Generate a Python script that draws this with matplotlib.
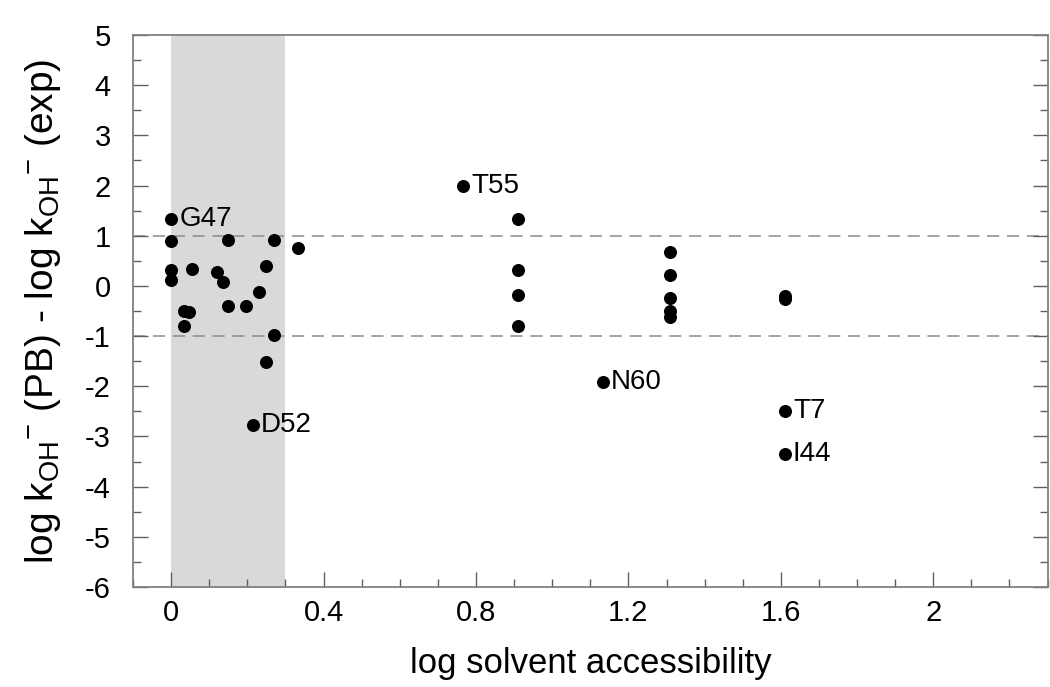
import matplotlib
matplotlib.use("Agg")
import matplotlib.pyplot as plt
from matplotlib.ticker import MultipleLocator

plt.rcParams['font.family'] = ['Liberation Sans', 'DejaVu Sans']
plt.rcParams['mathtext.fontset'] = 'custom'
plt.rcParams['mathtext.rm'] = 'Liberation Sans'
plt.rcParams['mathtext.it'] = 'Liberation Sans'
plt.rcParams['axes.unicode_minus'] = False

# data: log solvent accessibility vs. difference in log k
x_vals = [0.0, 0.0, 0.0, 0.0, 0.055, 0.033, 0.046, 0.033, 0.12, 0.135, 0.15, 0.15,
          0.197, 0.214, 0.231, 0.25, 0.25, 0.269, 0.269, 0.333,
          0.765, 0.911, 0.911, 0.911, 0.911, 1.133,
          1.308, 1.308, 1.308, 1.308, 1.308,
          1.61, 1.61, 1.61, 1.61]
y_vals = [1.33, 0.90, 0.32, 0.12, 0.33, -0.50, -0.52, -0.79, 0.27, 0.07, 0.92, -0.40,
          -0.41, -2.77, -0.13, 0.40, -1.51, 0.92, -0.98, 0.75,
          1.99, 1.33, 0.32, -0.18, -0.79, -1.91,
          0.67, 0.21, -0.24, -0.50, -0.62,
          -0.20, -0.26, -2.50, -3.35]
label_names = ['G47', 'D52', 'T55', 'N60', 'T7', 'I44']
label_x = [0.0, 0.214, 0.765, 1.133, 1.61, 1.61]
label_y = [1.33, -2.77, 1.99, -1.91, -2.50, -3.35]
shade_range = [0.0, 0.3]
ref_lines = [1, -1]

fig = plt.figure(figsize=(10.5, 6.87), dpi=100)
ax = fig.add_axes([0.1267, 0.1456, 0.871, 0.8034])

ax.axvspan(shade_range[0], shade_range[1], color='#d9d9d9', lw=0, zorder=0)
for yv in ref_lines:
    ax.axhline(yv, color='#8c8c8c', lw=1.1, ls=(0, (8, 5)), zorder=1)

ax.scatter(x_vals, y_vals, s=88, color='black', zorder=3, linewidths=0)

for name, lx, ly in zip(label_names, label_x, label_y):
    ax.annotate(name, (lx, ly), xytext=(6, 0), textcoords='offset points',
                ha='left', va='center', fontsize=20)

ax.set_xlim(-0.1, 2.3)
ax.set_ylim(-6, 5)
ax.xaxis.set_minor_locator(MultipleLocator(0.1))
ax.yaxis.set_major_locator(MultipleLocator(1))
ax.yaxis.set_minor_locator(MultipleLocator(0.5))
ax.set_xticks([0, 0.4, 0.8, 1.2, 1.6, 2.0])
ax.set_xticklabels(['0', '0.4', '0.8', '1.2', '1.6', '2'])

for sp in ax.spines.values():
    sp.set_color('#808080')
    sp.set_linewidth(1.3)

ax.tick_params(axis='x', which='both', direction='in', top=False, bottom=True,
               colors='#606060', labelcolor='black', labelsize=21, pad=9)
ax.tick_params(axis='y', which='both', direction='in', left=True, right=True,
               colors='#606060', labelcolor='black', labelsize=21, pad=16)
ax.tick_params(which='major', length=11, width=1.0)
ax.tick_params(which='minor', length=6, width=1.0)

ax.set_xlabel('log solvent accessibility', fontsize=25, labelpad=14)
ax.set_ylabel(r'log k$_{\mathregular{OH}}$$^{\mathregular{-}}$ (PB) - log k$_{\mathregular{OH}}$$^{\mathregular{-}}$ (exp)',
              fontsize=28, labelpad=16)

fig.savefig('out.png', dpi=100)
